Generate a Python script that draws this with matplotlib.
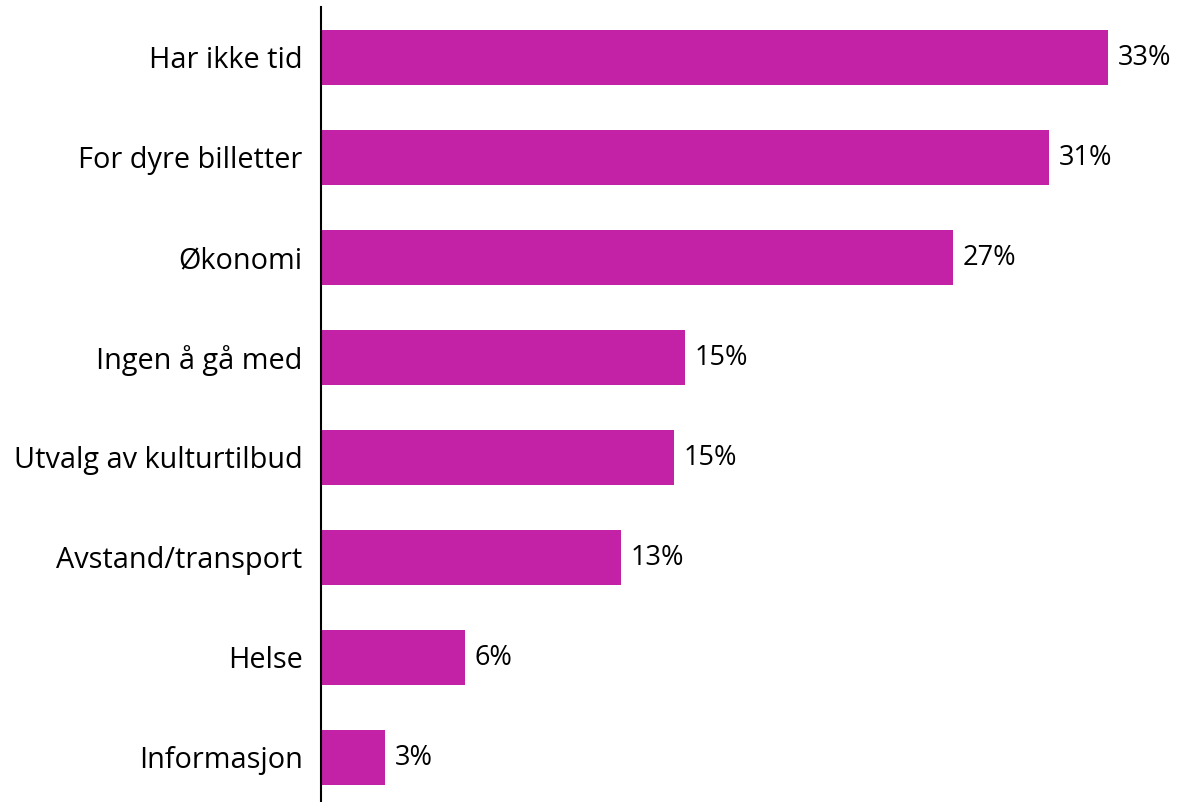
import matplotlib
matplotlib.use("Agg")
import matplotlib.pyplot as plt

# Data (percent)
categories = ["Har ikke tid", "For dyre billetter", "Økonomi", "Ingen å gå med",
              "Utvalg av kulturtilbud", "Avstand/transport", "Helse", "Informasjon"]
values = [33.4, 30.9, 26.8, 15.46, 14.97, 12.72, 6.13, 2.74]
value_labels = ["33%", "31%", "27%", "15%", "15%", "13%", "6%", "3%"]

BAR = "#C322A6"
plt.rcParams["font.family"] = ["Open Sans", "DejaVu Sans"]

fig = plt.figure(figsize=(11.95, 8.02), dpi=100)
ax = fig.add_axes([320.7 / 1195, -5 / 802, 849 / 1195, 800 / 802])

pos = list(range(len(categories)))
ax.barh(pos, values, height=0.55, color=BAR)
ax.set_ylim(len(categories) - 0.5, -0.5)
ax.set_xlim(0, 36)

for y, v, lab in zip(pos, values, value_labels):
    ax.annotate(lab, (v, y), xytext=(7, -1), textcoords="offset points",
                va="center", ha="left", fontsize=19.5, color="black")

ax.set_yticks(pos)
ax.set_yticklabels(categories, fontsize=20.8)
ax.tick_params(axis="y", length=0, pad=13)
ax.set_xticks([])
for s in ["top", "right", "bottom"]:
    ax.spines[s].set_visible(False)
ax.spines["left"].set_linewidth(1.5)
ax.spines["left"].set_color("black")

fig.savefig("out.png", dpi=100, facecolor="white")
